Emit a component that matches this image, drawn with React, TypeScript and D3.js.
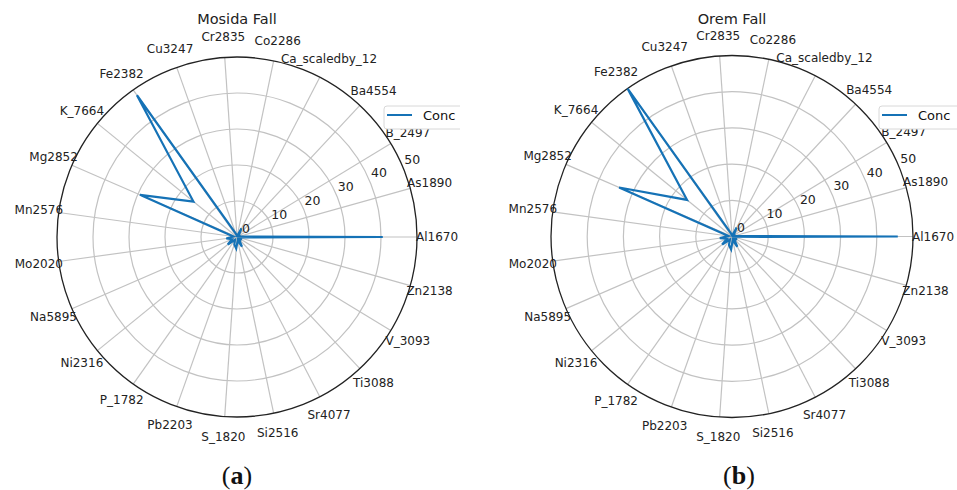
import React from "react";
import * as d3 from "d3";

// element labels, counter-clockwise from 3 o'clock
const elements = [
  "Al1670", "As1890", "B_2497", "Ba4554", "Ca_scaledby_12", "Co2286", "Cr2835",
  "Cu3247", "Fe2382", "K_7664", "Mg2852", "Mn2576", "Mo2020", "Na5895",
  "Ni2316", "P_1782", "Pb2203", "S_1820", "Si2516", "Sr4077", "Ti3088",
  "V_3093", "Zn2138",
];

// concentrations
const mosidaConc = [
  40.5, 0.5, 0.8, 0.8, 2.7, 0.3, 0.4, 1.0, 48.2, 15.6, 29.4, 1.0,
  3.0, 1.5, 3.3, 1.0, 2.2, 3.2, 1.0, 3.0, 0.8, 1.5, 0.5,
];
const oremConc = [
  45.8, 0.5, 0.8, 0.8, 2.8, 0.3, 0.4, 1.0, 50.0, 16.0, 34.0, 1.0,
  3.4, 1.5, 3.5, 1.0, 2.5, 3.6, 1.0, 3.2, 0.8, 1.6, 0.5,
];
const rTicks = [0, 10, 20, 30, 40, 50];

const panels = [
  { title: "Mosida Fall", tag: "a", values: mosidaConc, cx: 237, cy: 237, R: 180, tagX: 237 },
  { title: "Orem Fall", tag: "b", values: oremConc, cx: 732, cy: 236.5, R: 181, tagX: 739 },
];

const blue = "#1572b6";
const font = "DejaVu Sans, sans-serif";

function Radar({ p, idx }: { p: any; idx: number }) {
  const n = elements.length;
  const step = (2 * Math.PI) / n;
  const r = d3.scaleLinear().domain([0, 50]).range([0, p.R]);
  const theta = (i: number) => i * step;
  const px = (i: number, v: number) => p.cx + v * Math.cos(theta(i));
  const py = (i: number, v: number) => p.cy - v * Math.sin(theta(i));

  const line = d3
    .lineRadial<number>()
    .angle((_, i) => Math.PI / 2 - theta(i))
    .radius((d) => r(d))
    .curve(d3.curveLinearClosed);

  const rlab = (22.5 * Math.PI) / 180;
  const lx = p.cx + 147;
  const ly = 106;

  return (
    <g clipPath={`url(#clip${idx})`}>
      <clipPath id={`clip${idx}`}>
        <rect x={idx === 0 ? 0 : 470} y={0} width={idx === 0 ? 460 : 487} height={490} />
      </clipPath>
      {/* grid rings */}
      {rTicks.slice(1, -1).map((t) => (
        <circle key={t} cx={p.cx} cy={p.cy} r={r(t)} fill="none" stroke="#c2c2c2" strokeWidth={1.2} />
      ))}
      {/* spokes */}
      {elements.map((_, i) => (
        <line
          key={i}
          x1={p.cx}
          y1={p.cy}
          x2={px(i, p.R)}
          y2={py(i, p.R)}
          stroke="#c2c2c2"
          strokeWidth={1.2}
        />
      ))}
      <circle cx={p.cx} cy={p.cy} r={p.R} fill="none" stroke="#222" strokeWidth={1.3} />
      <path d={line(p.values) || ""} transform={`translate(${p.cx},${p.cy})`} fill="none" stroke={blue} strokeWidth={2.2} />
      {/* radial tick labels */}
      {rTicks.map((t) => (
        <text
          key={t}
          x={p.cx + r(t) * Math.cos(rlab) + 9}
          y={p.cy - r(t) * Math.sin(rlab) - 9}
          textAnchor="middle"
          dominantBaseline="central"
          fontSize={12.5}
          fontFamily={font}
          fill="#222"
        >
          {t}
        </text>
      ))}
      {/* category labels */}
      {elements.map((e, i) => (
        <text
          key={e}
          x={px(i, p.R + 20)}
          y={py(i, p.R + 20)}
          textAnchor="middle"
          dominantBaseline="central"
          fontSize={12}
          fontFamily={font}
          fill="#222"
        >
          {e}
        </text>
      ))}
      <text x={p.cx} y={19} textAnchor="middle" dominantBaseline="central" fontSize={14.5} fontFamily={font} fill="#222">
        {p.title}
      </text>
      {/* legend */}
      <rect x={lx} y={ly} width={95} height={23} rx={3} fill="white" stroke="#d8d8d8" strokeWidth={1} />
      <line x1={lx + 3} x2={lx + 28} y1={ly + 9} y2={ly + 9} stroke={blue} strokeWidth={2} />
      <text x={lx + 39} y={ly + 9} dominantBaseline="central" fontSize={13} fontFamily={font} fill="#111">
        Conc
      </text>
      {/* panel tag */}
      <text x={p.tagX} y={484} textAnchor="middle" fontSize={26} fontFamily="Liberation Serif, serif" fill="#111">
        (<tspan fontWeight="bold">{p.tag}</tspan>)
      </text>
    </g>
  );
}

export default function App() {
  return (
    <svg width={957} height={490} style={{ position: "absolute", left: 0, top: 0, background: "white" }}>
      <rect width={957} height={490} fill="white" />
      {panels.map((p, i) => (
        <Radar key={p.title} p={p} idx={i} />
      ))}
    </svg>
  );
}
